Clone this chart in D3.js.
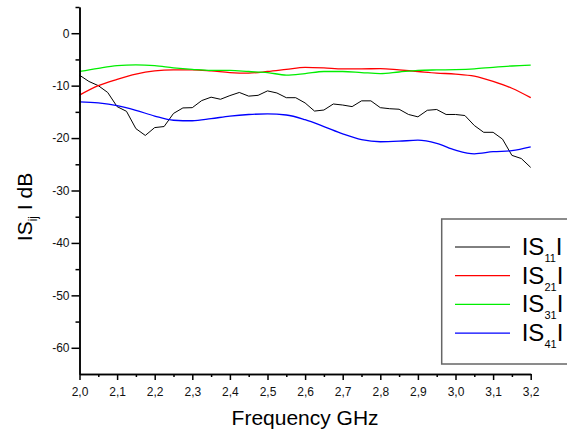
<!DOCTYPE html>
<html>
<head>
<meta charset="utf-8">
<script src="https://cdn.jsdelivr.net/npm/d3@7"></script>
<style>
  body { margin: 0; background: #fff; }
  text { font-family: "Liberation Sans", Arial, sans-serif; }
</style>
</head>
<body>
<div id="chart"></div>
<script>
// frequencies for the smooth curves (GHz)
var freqs = [2.00, 2.05, 2.10, 2.15, 2.20, 2.25, 2.30, 2.35, 2.40, 2.45, 2.50, 2.55,
             2.60, 2.65, 2.70, 2.75, 2.80, 2.85, 2.90, 2.95, 3.00, 3.05, 3.10, 3.15, 3.20];

var s21 = [-11.8, -10.0, -8.8, -7.8, -7.2, -7.0, -7.0, -7.2, -7.5, -7.6, -7.3, -6.9,
           -6.5, -6.6, -6.8, -6.8, -6.75, -7.0, -7.3, -7.6, -7.8, -8.2, -9.2, -10.5, -12.3];

var s31 = [-7.3, -6.7, -6.2, -6.05, -6.2, -6.6, -6.9, -7.1, -7.1, -7.3, -7.5, -8.0,
           -7.7, -7.3, -7.3, -7.5, -7.7, -7.4, -7.1, -7.0, -6.95, -6.8, -6.5, -6.25, -6.1];

var s41 = [-13.1, -13.3, -13.8, -14.7, -15.8, -16.6, -16.7, -16.3, -15.8, -15.5, -15.4, -15.6,
           -16.5, -17.8, -19.2, -20.3, -20.7, -20.6, -20.4, -21.0, -22.3, -23.0, -22.6, -22.4, -21.7];

// S11 is measured on a 0.025 GHz grid, 2.0 .. 3.2
var s11Freqs = d3.range(49).map(function(i){ return +(2 + i * 0.025).toFixed(3); });
var s11 = [-8.0, -9.2, -10.0, -11.3, -14.0, -14.9, -18.2, -19.5, -18.0, -17.8,
           -15.3, -14.25, -14.2, -12.85, -12.2, -12.6, -11.9, -11.3, -12.0, -11.85,
           -11.0, -11.4, -12.3, -12.3, -13.3, -14.85, -14.65, -13.5, -13.7, -14.0,
           -12.9, -12.9, -14.2, -14.4, -14.5, -15.5, -15.95, -14.7, -14.55, -15.5,
           -15.5, -15.7, -17.6, -18.9, -18.9, -20.2, -23.3, -23.9, -25.6];

var seriesNames = ["11", "21", "31", "41"];
var seriesColors = ["#000000", "#ff0000", "#00ee00", "#0000ff"];

var xMajor = [2.0, 2.1, 2.2, 2.3, 2.4, 2.5, 2.6, 2.7, 2.8, 2.9, 3.0, 3.1, 3.2];
var xMinor = [2.05, 2.15, 2.25, 2.35, 2.45, 2.55, 2.65, 2.75, 2.85, 2.95, 3.05, 3.15];
var yMajor = [0, -10, -20, -30, -40, -50, -60];
var yMinor = [5, -5, -15, -25, -35, -45, -55];

var width  = 567;
var height = 435;
var margin = {
  top: 7,
  bottom: 61,
  left: 79.5,
  right: 36.3
};

var svg = d3.select('#chart')
            .append('svg')
            .attr('width', width)
            .attr('height', height);

var xScale = d3.scaleLinear()
               .domain([2.0, 3.2])
               .range([margin.left, width - margin.right]);

var yScale = d3.scaleLinear()
               .domain([-65, 5])
               .range([height - margin.bottom, margin.top]);

// curves
var line = d3.line()
             .x(function(d){ return xScale(d[0]); })
             .y(function(d){ return yScale(d[1]); });

var smooth = d3.line()
               .curve(d3.curveMonotoneX)
               .x(function(d){ return xScale(d[0]); })
               .y(function(d){ return yScale(d[1]); });

var curves = [
  { pts: d3.zip(s11Freqs, s11), gen: line, w: 1 },
  { pts: d3.zip(freqs, s21), gen: smooth, w: 1.3 },
  { pts: d3.zip(freqs, s31), gen: smooth, w: 1.3 },
  { pts: d3.zip(freqs, s41), gen: smooth, w: 1.3 }
];

svg.append('g')
   .selectAll('path')
   .data(curves)
   .join('path')
   .attr('fill', 'none')
   .attr('stroke', function(d, i){ return seriesColors[i]; })
   .attr('stroke-width', function(d){ return d.w; })
   .attr('d', function(d){ return d.gen(d.pts); });

// axes
var xAxis = d3.axisBottom(xScale)
              .tickValues(xMajor)
              .tickSize(6)
              .tickSizeOuter(0)
              .tickPadding(7)
              .tickFormat(function(d){ return d.toFixed(1).replace('.', ','); });

var xAxisMinor = d3.axisBottom(xScale)
                   .tickValues(xMinor)
                   .tickSize(3)
                   .tickSizeOuter(0)
                   .tickFormat('');

var yAxis = d3.axisLeft(yScale)
              .tickValues(yMajor)
              .tickSize(8)
              .tickSizeOuter(0)
              .tickPadding(2)
              .tickFormat(function(d){ return String(d); });

var yAxisMinor = d3.axisLeft(yScale)
                   .tickValues(yMinor)
                   .tickSize(4)
                   .tickSizeOuter(0)
                   .tickFormat('');

[[xAxisMinor, 'x'], [xAxis, 'x'], [yAxisMinor, 'y'], [yAxis, 'y']].forEach(function(a){
  var g = svg.append('g')
             .attr('class', a[1] + ' axis')
             .attr('transform', a[1] === 'x'
                   ? 'translate(0,' + (height - margin.bottom) + ')'
                   : 'translate(' + margin.left + ',0)')
             .call(a[0]);
  g.selectAll('path, line').attr('stroke', '#000').attr('stroke-width', 1.5);
  g.selectAll('text')
   .attr('fill', '#111')
   .style('font-size', '12px')
   .style('font-family', '"Liberation Sans", Arial, sans-serif');
});

// axis titles
svg.append('text')
   .attr('x', (xScale(2.0) + xScale(3.2)) / 2)
   .attr('y', 425)
   .attr('text-anchor', 'middle')
   .style('font-size', '21px')
   .text('Frequency GHz');

var yTitle = svg.append('text')
                .attr('transform', 'translate(32,207) rotate(-90)')
                .attr('text-anchor', 'middle')
                .style('font-size', '21px');
yTitle.append('tspan').text('IS');
yTitle.append('tspan').attr('dy', 5).style('font-size', '12px').text('ij');
yTitle.append('tspan').attr('dy', -5).text(' I dB');

// legend
var legend = svg.append('g');
legend.append('rect')
      .attr('x', 441.7)
      .attr('y', 219)
      .attr('width', 140)
      .attr('height', 145)
      .attr('fill', '#fff')
      .attr('stroke', '#666')
      .attr('stroke-width', 1.5);

var rows = legend.selectAll('g.row')
                 .data(seriesNames)
                 .join('g')
                 .attr('class', 'row')
                 .attr('transform', function(d, i){ return 'translate(0,' + (247 + i * 28.7) + ')'; });

rows.append('line')
    .attr('x1', 455)
    .attr('x2', 510)
    .attr('stroke', function(d, i){ return seriesColors[i]; })
    .attr('stroke-width', function(d, i){ return i === 0 ? 1 : 1.3; });

var label = rows.append('text')
                .attr('x', 521.7)
                .attr('y', 8)
                .style('font-size', '24px');
label.append('tspan').text('IS');
label.append('tspan').attr('dy', 7).style('font-size', '11px').text(function(d){ return d; });
label.append('tspan').attr('dy', -7).text('I');
</script>
</body>
</html>
